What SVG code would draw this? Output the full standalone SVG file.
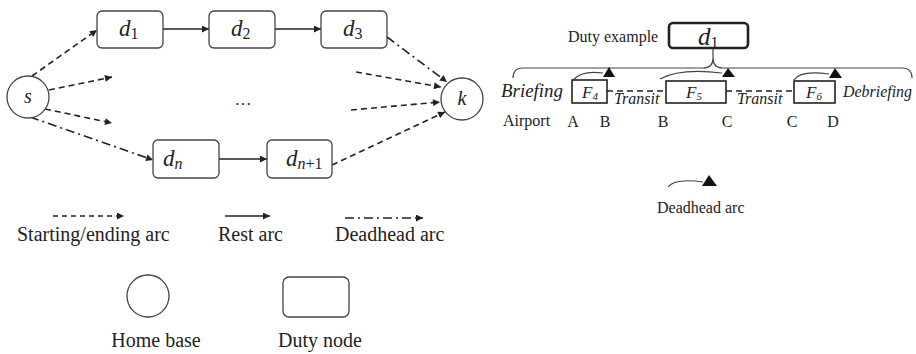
<svg xmlns="http://www.w3.org/2000/svg" width="916" height="354" viewBox="0 0 916 354">
  <defs>
    <marker id="arrow" viewBox="0 0 10 10" refX="10" refY="5" markerWidth="9" markerHeight="7" markerUnits="userSpaceOnUse" orient="auto">
      <path d="M0,0 L10,5 L0,10 z" fill="#222"/>
    </marker>
    <style>
      .node { fill: #fff; stroke: #444; stroke-width: 1.3; }
      .edge { fill: none; stroke: #222; stroke-width: 1.6; marker-end: url(#arrow); }
      .dash { stroke-dasharray: 6 4; }
      .dashdot { stroke-dasharray: 9 4 2 4; }
      .math { font-family: "Liberation Serif", "DejaVu Serif", serif; font-style: italic; fill: #222; }
      .lbl { font-family: "Liberation Serif", "Times New Roman", serif; fill: #222; }
      .flt { fill: none; stroke: #222; stroke-width: 1.6; }
      .dh { fill: none; stroke: #444; stroke-width: 1.2; }
      .tri { fill: #111; }
    </style>
  </defs>

  <!-- ===== Duty network ===== -->
  <g id="connectors">
    <!-- rest arcs -->
    <line class="edge" x1="163" y1="29" x2="209" y2="29"/>
    <line class="edge" x1="275" y1="29" x2="321" y2="29"/>
    <line class="edge" x1="219" y1="159" x2="267" y2="159"/>
    <!-- starting arcs -->
    <line class="edge dash" x1="32" y1="76" x2="97" y2="30"/>
    <line class="edge dash" x1="49" y1="90" x2="112" y2="77"/>
    <line class="edge dash" x1="45" y1="109" x2="112" y2="123"/>
    <!-- deadhead arcs -->
    <line class="edge dashdot" x1="30" y1="117" x2="153" y2="160"/>
    <line class="edge dashdot" x1="387" y1="37" x2="447" y2="82"/>
    <!-- ending arcs -->
    <line class="edge dash" x1="356" y1="72" x2="441" y2="87"/>
    <line class="edge dash" x1="351" y1="110" x2="440" y2="102"/>
    <line class="edge dash" x1="332" y1="165" x2="445" y2="112"/>
  </g>

  <g id="node-s">
    <circle class="node" cx="28" cy="97" r="21"/>
    <text class="math" x="28" y="103" font-size="20" text-anchor="middle">s</text>
  </g>
  <g id="node-k">
    <circle class="node" cx="462" cy="99" r="21"/>
    <text class="math" x="462" y="105" font-size="20" text-anchor="middle">k</text>
  </g>
  <g id="node-d1">
    <rect class="node" x="97" y="11" width="66" height="37" rx="5"/>
    <text class="math" x="119" y="36" font-size="23">d<tspan font-style="normal" font-size="16" dy="3">1</tspan></text>
  </g>
  <g id="node-d2">
    <rect class="node" x="209" y="11" width="66" height="37" rx="5"/>
    <text class="math" x="231" y="36" font-size="23">d<tspan font-style="normal" font-size="16" dy="3">2</tspan></text>
  </g>
  <g id="node-d3">
    <rect class="node" x="321" y="11" width="66" height="37" rx="5"/>
    <text class="math" x="343" y="36" font-size="23">d<tspan font-style="normal" font-size="16" dy="3">3</tspan></text>
  </g>
  <g id="node-dn">
    <rect class="node" x="153" y="140" width="66" height="38" rx="5"/>
    <text class="math" x="163" y="166" font-size="23">d<tspan font-size="16" dy="3">n</tspan></text>
  </g>
  <g id="node-dn1">
    <rect class="node" x="267" y="140" width="65" height="38" rx="5"/>
    <text class="math" x="286" y="166" font-size="23">d<tspan font-size="16" dy="3">n</tspan><tspan font-style="normal" font-size="16">+1</tspan></text>
  </g>
  <text class="lbl" x="243" y="105" font-size="17" text-anchor="middle">…</text>

  <!-- ===== Legend ===== -->
  <g id="legend">
    <line class="edge dash" x1="53" y1="216" x2="124" y2="216" style="stroke-dasharray:5 4"/>
    <text class="lbl" x="17" y="241" font-size="20">Starting/ending arc</text>
    <line class="edge" x1="225" y1="216" x2="270" y2="216"/>
    <text class="lbl" x="218" y="241" font-size="20">Rest arc</text>
    <line class="edge dashdot" x1="345" y1="218" x2="423" y2="218"/>
    <text class="lbl" x="335" y="241" font-size="20">Deadhead arc</text>
    <circle class="node" cx="148" cy="296" r="21"/>
    <text class="lbl" x="156" y="347" font-size="20" text-anchor="middle">Home base</text>
    <rect class="node" x="283" y="277" width="66" height="40" rx="6"/>
    <text class="lbl" x="320" y="347" font-size="20" text-anchor="middle">Duty node</text>
  </g>

  <!-- ===== Duty example ===== -->
  <g id="duty-example">
    <text class="lbl" x="568" y="42" font-size="16">Duty example</text>
    <rect x="669" y="23" width="79" height="25" rx="4" fill="#fff" stroke="#222" stroke-width="2.6"/>
    <text class="math" x="698" y="45" font-size="25">d<tspan font-style="normal" font-size="16" dy="3">1</tspan></text>
    <!-- brace -->
    <path class="dh" d="M513,78 Q513,68 523,68 L703,68 Q713,68 713,58 L713,49 M713,58 Q713,68 723,68 L902,68 Q912,68 912,78" stroke="#555"/>
  </g>

  <g id="flights">
    <text class="math" x="501" y="97" font-size="18" textLength="62" lengthAdjust="spacingAndGlyphs">Briefing</text>
    <g id="flight-F4">
      <rect class="flt" x="572" y="80" width="35" height="23"/>
      <text class="math" x="582" y="98" font-size="17">F<tspan font-size="11" dy="2">4</tspan></text>
      <path class="dh" d="M573,80 Q582,70 603,73"/>
      <polygon class="tri" points="603,77 609,67 615,77"/>
    </g>
    <line x1="607" y1="91" x2="666" y2="91" stroke="#222" stroke-width="1.5" stroke-dasharray="6 4"/>
    <text class="math" x="614" y="104" font-size="16">Transit</text>
    <g id="flight-F5">
      <rect class="flt" x="666" y="81" width="60" height="22"/>
      <text class="math" x="686" y="98" font-size="17">F<tspan font-size="11" dy="2">5</tspan></text>
      <path class="dh" d="M660,79 Q680,68 722,73"/>
      <polygon class="tri" points="722,77 728,68 735,77"/>
    </g>
    <line x1="726" y1="91" x2="794" y2="91" stroke="#222" stroke-width="1.5" stroke-dasharray="6 4"/>
    <text class="math" x="737" y="104" font-size="16">Transit</text>
    <g id="flight-F6">
      <rect class="flt" x="794" y="81" width="41" height="22"/>
      <text class="math" x="806" y="98" font-size="17">F<tspan font-size="11" dy="2">6</tspan></text>
      <path class="dh" d="M794,80 Q800,70 829,74"/>
      <polygon class="tri" points="829,78 835,68 842,78"/>
    </g>
    <text class="math" x="843" y="97" font-size="17" textLength="69" lengthAdjust="spacingAndGlyphs">Debriefing</text>
  </g>

  <g id="airports" font-size="16">
    <text class="lbl" x="503" y="126">Airport</text>
    <text class="lbl" x="573" y="127" text-anchor="middle">A</text>
    <text class="lbl" x="605" y="127" text-anchor="middle">B</text>
    <text class="lbl" x="663" y="127" text-anchor="middle">B</text>
    <text class="lbl" x="727" y="127" text-anchor="middle">C</text>
    <text class="lbl" x="792" y="127" text-anchor="middle">C</text>
    <text class="lbl" x="833" y="127" text-anchor="middle">D</text>
  </g>

  <g id="deadhead-legend">
    <path class="dh" d="M668,187 Q675,178 703,182"/>
    <polygon class="tri" points="702,186 709,175 717,186"/>
    <text class="lbl" x="657" y="213" font-size="16">Deadhead arc</text>
  </g>
</svg>
